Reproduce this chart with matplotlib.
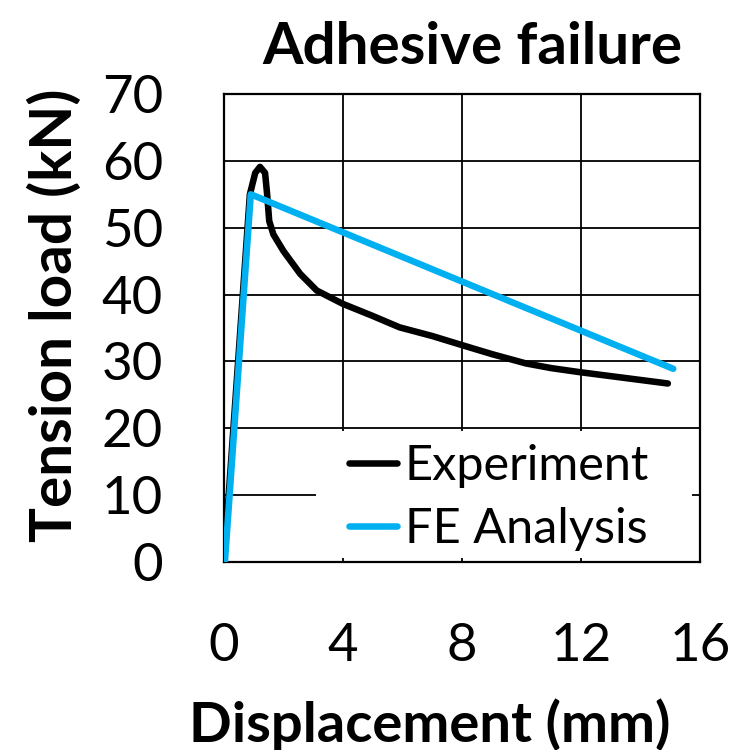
import numpy as np
import matplotlib.pyplot as plt
from matplotlib.patches import Rectangle

# Experiment curve
exp_x = [0.0, 0.87, 1.05, 1.21, 1.38, 1.45, 1.52, 1.66, 2.0, 2.56, 3.12, 4.0, 5.0, 5.9, 7.0, 8.03, 9.0, 10.15, 11.0, 11.95, 13.0, 14.92]
exp_y = [0.0, 55.0, 58.2, 59.1, 58.2, 55.0, 51.0, 49.0, 46.5, 43.1, 40.6, 38.6, 36.8, 35.1, 33.8, 32.4, 31.1, 29.7, 29.0, 28.4, 27.8, 26.7]

# FE analysis
fe_x = [0.03, 0.90, 15.1]
fe_y = [0.0, 55.0, 28.9]

xticks = [0, 4, 8, 12, 16]
yticks = [0, 10, 20, 30, 40, 50, 60, 70]

plt.rcParams['font.family'] = ['Lato', 'DejaVu Sans']

fig = plt.figure(figsize=(7.49, 7.5), dpi=100)
ax = fig.add_axes([224/749, 1-562/750, 476/749, 468/750])

ax.plot(exp_x, exp_y, color='black', lw=4.7, solid_capstyle='round', solid_joinstyle='round', label='Experiment', zorder=3)
ax.plot(fe_x, fe_y, color='#00B0F0', lw=4.7, solid_capstyle='round', solid_joinstyle='round', label='FE Analysis', zorder=4)

ax.set_xlim(0, 16)
ax.set_ylim(0, 70)
ax.set_xticks(xticks)
ax.set_yticks(yticks)
ax.grid(True, color='black', lw=1.3)
ax.set_axisbelow(True)
for s in ax.spines.values():
    s.set_linewidth(1.6)
ax.tick_params(length=0, labelsize=38, pad=44)

# white legend background hiding the grid
ax.add_patch(Rectangle((0.193, 0.0085), 0.79, 0.272, transform=ax.transAxes,
                       facecolor='white', edgecolor='none', zorder=1.5))

leg = ax.legend(loc='upper left', bbox_to_anchor=(0.262, 0.252), fontsize=35,
                frameon=False, handlelength=1.0, handletextpad=0.15, labelspacing=0.38,
                borderpad=0, borderaxespad=0)
leg.set_zorder(2)

fig.text(472/749, 1-64/750, 'Adhesive failure', fontsize=42, fontweight='bold', ha='center', va='baseline')
fig.text(430/749, 1-742/750, 'Displacement (mm)', fontsize=40.5, fontweight='bold', ha='center', va='baseline')
fig.text(55/749, 1-315/750, 'Tension load (kN)', fontsize=42, fontweight='bold', rotation=90, ha='center', va='center')

fig.savefig('out.png', dpi=100)
